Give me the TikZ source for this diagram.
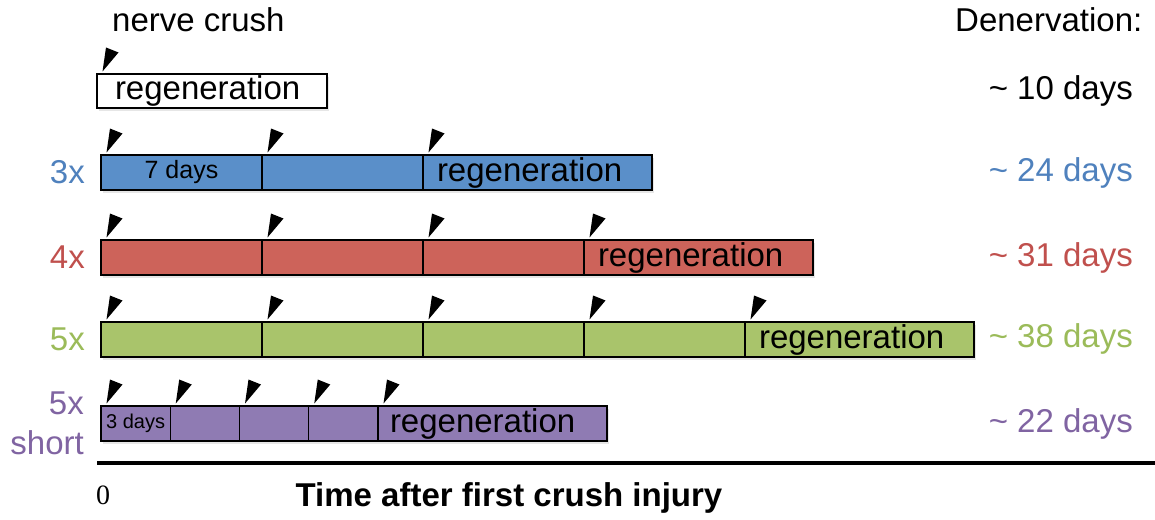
\documentclass[tikz,border=0pt]{standalone}
\usepackage{fontspec}
\setmainfont{Liberation Sans}
\newfontfamily\zerofont{Liberation Serif}
\usetikzlibrary{positioning, shadows}
\definecolor{bluebar}{HTML}{5A8FC9}
\definecolor{redbar}{HTML}{CD635A}
\definecolor{greenbar}{HTML}{A9C46B}
\definecolor{purplebar}{HTML}{8F7BB3}
\definecolor{bluetxt}{HTML}{4F81BD}
\definecolor{redtxt}{HTML}{C0504D}
\definecolor{greentxt}{HTML}{9BBB59}
\definecolor{purpletxt}{HTML}{8064A2}
% black flag over the start of each crush
\newcommand{\crushmark}[1]{%
  \fill ([shift={(5.5,-2.5)}]#1.north west) -- ++(3.5,-24) -- ++(12.5,5) -- cycle;}

\begin{document}
\begin{tikzpicture}[x=1pt, y=-1pt,
    node distance=0pt,
    seg/.style={draw, line width=1.3pt, minimum height=35pt, minimum width=161pt,
                inner sep=0pt, outer sep=0pt, font=\fontsize{25}{28}\selectfont,
                drop shadow={opacity=0.2, shadow xshift=1.5pt, shadow yshift=-2.5pt}},
    regen/.style={seg, text width=201pt, inner xsep=14pt, align=left,
                  font=\fontsize{33}{36}\selectfont},
    lbl/.style={inner sep=0pt, font=\fontsize{33}{40}\selectfont}
]
    \useasboundingbox (0,0) rectangle (1155,519);

    \node[lbl, anchor=base west] (crush) at (112,32) {nerve crush};
    \node[lbl, anchor=base west] (den) at (955,32) {Denervation:};

    % single crush
    \node[regen, fill=white, minimum height=34pt, inner xsep=18pt, text width=194pt,
          anchor=north west] (w1) at (97,74) {regeneration};
    \node[lbl, anchor=east] (dw) at (1133,91) {\textasciitilde{} 10 days};

    % 3x, 7 days apart
    \node[seg, fill=bluebar, anchor=north west] (b1) at (101,155) {7 days};
    \node[seg, fill=bluebar, right=of b1] (b2) {};
    \node[regen, fill=bluebar, right=of b2] (b3) {regeneration};
    \node[lbl, text=bluetxt, left=16pt of b1] (l3) {3x};
    \node[lbl, text=bluetxt, anchor=east] (d3) at (1133,172.5) {\textasciitilde{} 24 days};

    % 4x
    \node[seg, fill=redbar, anchor=north west] (r1) at (101,240) {};
    \node[seg, fill=redbar, right=of r1] (r2) {};
    \node[seg, fill=redbar, right=of r2] (r3) {};
    \node[regen, fill=redbar, right=of r3] (r4) {regeneration};
    \node[lbl, text=redtxt, left=16pt of r1] (l4) {4x};
    \node[lbl, text=redtxt, anchor=east] (d4) at (1133,257.5) {\textasciitilde{} 31 days};

    % 5x
    \node[seg, fill=greenbar, anchor=north west] (g1) at (101,322) {};
    \node[seg, fill=greenbar, right=of g1] (g2) {};
    \node[seg, fill=greenbar, right=of g2] (g3) {};
    \node[seg, fill=greenbar, right=of g3] (g4) {};
    \node[regen, fill=greenbar, right=of g4] (g5) {regeneration};
    \node[lbl, text=greentxt, left=16pt of g1] (l5) {5x};
    \node[lbl, text=greentxt, anchor=east] (d5) at (1133,339) {\textasciitilde{} 38 days};

    % 5x short, 3 days apart
    \node[seg, fill=purplebar, minimum width=69.25pt, font=\fontsize{20}{22}\selectfont,
          anchor=north west] (p1) at (101,406) {3 days};
    \node[seg, fill=purplebar, minimum width=69.25pt, right=of p1] (p2) {};
    \node[seg, fill=purplebar, minimum width=69.25pt, right=of p2] (p3) {};
    \node[seg, fill=purplebar, minimum width=69.25pt, right=of p3] (p4) {};
    \node[regen, fill=purplebar, inner xsep=12pt, text width=205pt, right=of p4] (p5) {regeneration};
    \node[lbl, text=purpletxt, align=right, left=17pt of p1] (l5s) {5x\\short};
    \node[lbl, text=purpletxt, anchor=east] (d5s) at (1133,423.5) {\textasciitilde{} 22 days};

    \foreach \n in {w1,b1,b2,b3,r1,r2,r3,r4,g1,g2,g3,g4,g5,p1,p2,p3,p4,p5}
        \crushmark{\n};

    % time axis
    \coordinate (t0) at (97,463);
    \coordinate (tend) at (1155,463);
    \draw[line width=4pt] (t0) -- (tend);
    \node[inner sep=0pt, font=\zerofont\fontsize{28}{30}\selectfont] (zero) at (103,495) {0};
    \node[lbl, font=\fontsize{33}{40}\selectfont\bfseries, anchor=base] (tl) at (509,506)
          {Time after first crush injury};
\end{tikzpicture}
\end{document}
